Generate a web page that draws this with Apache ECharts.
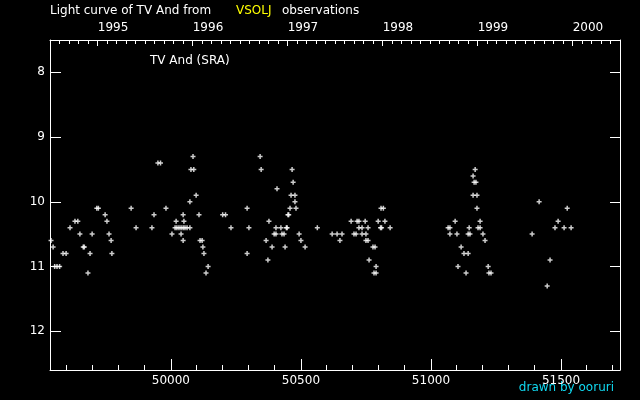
<!DOCTYPE html>
<html><head><meta charset="utf-8">
<script src="https://cdn.jsdelivr.net/npm/echarts@6/dist/echarts.min.js"></script>
<style>html,body{margin:0;padding:0;background:#000}#c{width:640px;height:400px}</style>
</head><body><div id="c"></div>
<script>
// Julian Date - 2400000
const jd = [49539,49547,49553,49562,49572,49585,49597,49612,49631,49642,49650,49663,49667,49681,49689,49697,49715,49721,49747,49754,49762,49770,49773,49847,49866,
49927,49935,49950,49960,49981,50004,50016,50020,50023,50031,50039,50039,50047,50047,50047,50050,50054,50062,50073,50073,50077,50085,50088,50097,50108,50112,50120,50123,50127,50135,50143,50199,50210,
50231,50293,50293,50300,50343,50347,50366,50373,50377,50389,50397,50404,50404,50408,50423,50427,50435,50439,50444,50447,50450,50453,50458,50462,50466,50470,50477,50477,50481,50493,50500,50516,50563,
50620,50639,50650,50658,50693,50704,50712,50716,50723,50723,50735,50735,50747,50750,50750,50758,50758,50762,50777,50781,50785,50789,50789,50797,50806,50810,50808,50817,50823,50843,
51066,51073,51073,51093,51100,51104,51116,51127,51135,51143,51143,51147,51150,51162,51162,51166,51170,51173,51177,51177,51181,51189,51189,51200,51208,51220,51223,51231,
51389,51416,51447,51458,51477,51489,51512,51524,51539];
const mag = [10.6,10.7,11.0,11.0,11.0,10.8,10.8,10.4,10.3,10.3,10.5,10.7,10.7,11.1,10.8,10.5,10.1,10.1,10.2,10.3,10.5,10.6,10.8,10.1,10.4,
10.4,10.2,9.4,9.4,10.1,10.5,10.4,10.3,10.4,10.4,10.4,10.5,10.4,10.2,10.6,10.3,10.4,10.4,10.4,10.0,9.5,9.3,9.5,9.9,10.2,10.6,10.6,10.7,10.8,11.1,11.0,10.2,10.2,
10.4,10.1,10.8,10.4,9.3,9.5,10.6,10.9,10.3,10.7,10.5,10.5,10.4,9.8,10.4,10.5,10.5,10.7,10.4,10.4,10.2,10.2,10.1,9.9,9.5,9.7,9.9,10.0,10.1,10.5,10.6,10.7,10.4,
10.5,10.5,10.6,10.5,10.3,10.5,10.5,10.3,10.3,10.4,10.4,10.5,10.3,10.5,10.6,10.4,10.6,10.9,10.7,11.1,10.7,11.0,11.1,10.3,10.4,10.4,10.1,10.1,10.3,10.4,
10.4,10.4,10.5,10.3,10.5,11.0,10.7,10.8,11.1,10.8,10.5,10.4,10.5,9.6,9.9,9.7,9.5,9.7,9.9,10.1,10.4,10.4,10.3,10.5,10.6,11.0,11.1,11.1,
10.5,10.0,11.3,10.9,10.4,10.3,10.4,10.1,10.4];

// tick values
const jdMinorTicks = [];
for (let d = 49600; d <= 51700; d += 100) if (d % 500 !== 0) jdMinorTicks.push(d);
const years = [1994, 1995, 1996, 1997, 1998, 1999, 2000, 2001];
const yearStartJD = [49353.5, 49718.5, 50083.5, 50449.5, 50814.5, 51179.5, 51544.5, 51910.5];
const labeledYears = [1995, 1996, 1997, 1998, 1999, 2000];

const JD_MIN = 49535, JD_MAX = 51727;
const MAG_MIN = 7.5, MAG_MAX = 12.6;

const yearMinorTicks = [];
for (let i = 0; i < years.length - 1; i++) {
  const len = yearStartJD[i + 1] - yearStartJD[i];
  for (let k = 1; k < 10; k++) {
    const d = yearStartJD[i] + len * k / 10;
    if (d > JD_MIN && d < JD_MAX) yearMinorTicks.push(d);
  }
}
const yearMajorTicks = labeledYears.map(y => yearStartJD[years.indexOf(y)]);

function jdToYear(d) {
  for (let i = 0; i < years.length - 1; i++) {
    if (d >= yearStartJD[i] && d < yearStartJD[i + 1]) {
      return years[i] + (d - yearStartJD[i]) / (yearStartJD[i + 1] - yearStartJD[i]);
    }
  }
  return years[years.length - 1];
}
const YEAR_MIN = jdToYear(JD_MIN), YEAR_MAX = jdToYear(JD_MAX);

// tick kinds: 0 = bottom minor, 1 = top year, 2 = top 0.1-year
const tickData = []
  .concat(jdMinorTicks.map(v => [v, 0]))
  .concat(yearMajorTicks.map(v => [v, 1]))
  .concat(yearMinorTicks.map(v => [v, 2]));
const tickLen = [5, 6, 4];

const FONT = 'DejaVu Sans';
const WHITE = '#ffffff';
const chart = echarts.init(document.getElementById('c'), null, {renderer: 'canvas'});

const option = {
  backgroundColor: '#000', animation: false,
  grid: {left: 50, right: 20, top: 40, bottom: 30},
  xAxis: [
    {type: 'value', min: JD_MIN, max: JD_MAX, position: 'bottom',
      axisLine: {show: true, onZero: false, lineStyle: {color: WHITE, width: 1}},
      splitLine: {show: false},
      axisTick: {show: true, inside: true, length: 11, lineStyle: {color: WHITE}},
      axisLabel: {show: true, showMinLabel: false, showMaxLabel: false, color: WHITE, fontFamily: FONT, fontSize: 12, margin: 5,
        formatter: v => String(Math.round(v))}},
    {type: 'value', min: YEAR_MIN, max: YEAR_MAX, position: 'top',
      axisLine: {show: true, onZero: false, lineStyle: {color: WHITE, width: 1}},
      splitLine: {show: false},
      axisTick: {show: false},
      axisLabel: {show: true, showMinLabel: false, showMaxLabel: false, color: WHITE, fontFamily: FONT, fontSize: 12, margin: 6, align: 'left',
        formatter: v => String(Math.round(v))}}
  ],
  yAxis: [
    {type: 'value', inverse: true, min: MAG_MIN, max: MAG_MAX, position: 'left',
      axisLine: {show: true, onZero: false, lineStyle: {color: WHITE}},
      splitLine: {show: false},
      axisTick: {show: true, inside: true, length: 11, lineStyle: {color: WHITE}},
      axisLabel: {show: true, showMinLabel: false, showMaxLabel: false, color: WHITE, fontFamily: FONT, fontSize: 12, margin: 5}},
    {type: 'value', inverse: true, min: MAG_MIN, max: MAG_MAX, position: 'right',
      axisLine: {show: true, onZero: false, lineStyle: {color: WHITE}},
      splitLine: {show: false},
      axisTick: {show: true, inside: true, length: 10, lineStyle: {color: WHITE}},
      axisLabel: {show: false}}
  ],
  series: [{
    type: 'scatter', xAxisIndex: 0, yAxisIndex: 0,
    symbol: 'path://M1.75,0H3.25V1.75H5V3.25H3.25V5H1.75V3.25H0V1.75H1.75Z', symbolSize: 5,
    itemStyle: {color: WHITE},
    silent: true,
    data: jd.map((d, i) => [d, mag[i]])
  }, {
    // axis tick marks placed through the axis scales
    type: 'custom', xAxisIndex: 0, yAxisIndex: 0, silent: true, clip: false, z: 5,
    encode: {x: 0},
    data: tickData,
    renderItem: function (params, api) {
      const v = api.value(0), kind = api.value(1);
      const top = api.coord([v, MAG_MIN]);
      const bot = api.coord([v, MAG_MAX]);
      const x = Math.floor(top[0]) + 0.5;
      const len = tickLen[kind];
      let y1, y2;
      if (kind === 0) { y1 = bot[1]; y2 = bot[1] - len; }
      else { y1 = top[1]; y2 = top[1] + len; }
      return {type: 'line', shape: {x1: x, y1: y1, x2: x, y2: y2},
        style: {stroke: WHITE, lineWidth: 1}};
    }
  }]
};
chart.setOption(option);
chart.setOption({
  graphic: [
    {type: 'text', left: 50, top: 5, style: {text: 'Light curve of TV And from', fill: WHITE, font: '12px "DejaVu Sans"'}},
    {type: 'text', left: 236, top: 5, style: {text: 'VSOLJ', fill: '#ffff00', font: '12px "DejaVu Sans"'}},
    {type: 'text', left: 282, top: 5, style: {text: 'observations', fill: WHITE, font: '12px "DejaVu Sans"'}},
    {type: 'text', left: 150, top: 55, style: {text: 'TV And (SRA)', fill: WHITE, font: '12px "DejaVu Sans"'}},
    {type: 'text', right: 26, top: 382, style: {text: 'drawn by ooruri', fill: '#10d8f0', font: '12px "DejaVu Sans"'}}
  ]
});
</script></body></html>
